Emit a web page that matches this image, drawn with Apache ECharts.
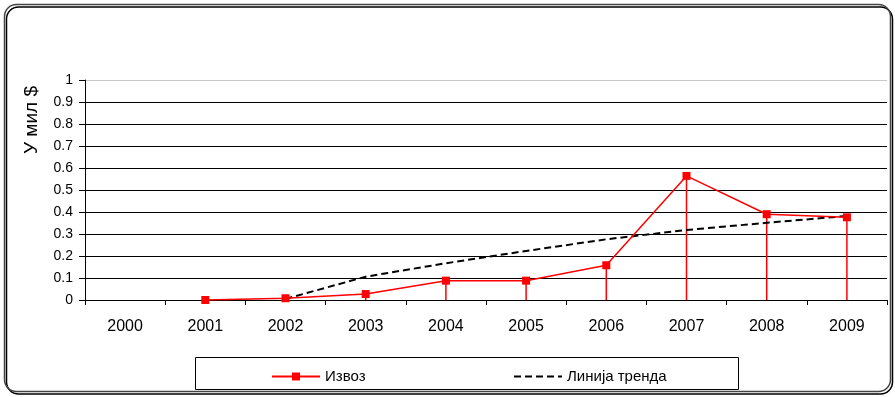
<!DOCTYPE html>
<html>
<head>
<meta charset="utf-8">
<script src="https://cdn.jsdelivr.net/npm/echarts@6/dist/echarts.min.js"></script>
<style>html,body{margin:0;padding:0;background:#fff}#c{width:895px;height:397px}</style>
</head>
<body>
<div id="c"></div>
<script>
const years = ['2000','2001','2002','2003','2004','2005','2006','2007','2008','2009'];
const exportVals = [null, 0, 0.008, 0.027, 0.088, 0.088, 0.158, 0.564, 0.39, 0.376];
const trendVals = [null, null, 0.005, 0.106, 0.167, 0.223, 0.276, 0.318, 0.351, 0.382];
const exportName = 'Извоз';
const trendName = 'Линија тренда';
const yTitle = 'У мил $';

const chart = echarts.init(document.getElementById('c'), null, {renderer: 'canvas'});
const font = 'Arial, "Liberation Sans", sans-serif';
const gridColors = ['#000','#000','#000','#000','#000','#000','#000','#000','#000','#000','#c8c8c8'];
chart.setOption({
  animation: false,
  backgroundColor: '#fff',
  grid: {left: 85, right: 8, top: 80, bottom: 97},
  xAxis: {
    type: 'category',
    data: years,
    boundaryGap: true,
    axisLine: {lineStyle: {color: '#000', width: 1}},
    axisTick: {show: true, alignWithLabel: false, length: 5, lineStyle: {color: '#000'}},
    axisLabel: {color: '#000', fontSize: 16, fontFamily: font, margin: 19},
    splitLine: {show: false}
  },
  yAxis: {
    type: 'value',
    min: 0, max: 1, interval: 0.1,
    axisLine: {show: true, lineStyle: {color: '#000', width: 1}},
    axisTick: {show: true, length: 6, lineStyle: {color: '#000'}},
    axisLabel: {color: '#000', fontSize: 14, fontFamily: font, margin: 12},
    splitLine: {show: true, lineStyle: {color: gridColors, width: 1}}
  },
  legend: [
    {data: [exportName], left: 271, top: 369, itemWidth: 48, itemHeight: 10, itemGap: 0, padding: 0,
     selectedMode: false, textStyle: {fontSize: 15, fontFamily: font, color: '#000'}},
    {data: [{name: trendName, itemStyle: {opacity: 0}}], left: 513, top: 369, itemWidth: 48, itemHeight: 10, itemGap: 0, padding: 0,
     selectedMode: false, textStyle: {fontSize: 15, fontFamily: font, color: '#000'}}
  ],
  graphic: [
    {type: 'rect', z: -10, shape: {x: 4.5, y: 4.5, width: 886, height: 387, r: 12},
     style: {fill: 'none', stroke: '#444', lineWidth: 1.5, shadowColor: '#000', shadowOffsetX: 2, shadowOffsetY: 2.5, shadowBlur: 0}},
    {type: 'rect', z: -5, shape: {x: 195.5, y: 357.5, width: 543, height: 32},
     style: {fill: '#fff', stroke: '#000', lineWidth: 1}},
    {type: 'text', x: 32, y: 120, rotation: Math.PI / 2,
     style: {text: yTitle, fontSize: 19, fontFamily: font, fill: '#000', align: 'center', verticalAlign: 'middle'}}
  ],
  series: [
    {name: 'drop', type: 'bar', data: exportVals, barWidth: 1.5, z: 1,
     itemStyle: {color: '#ff0000'}, silent: true},
    {name: trendName, type: 'line', data: trendVals, symbol: 'none', z: 2,
     lineStyle: {color: '#000', width: 2, type: [7, 4]}, itemStyle: {color: '#000'}},
    {name: exportName, type: 'line', data: exportVals, symbol: 'rect', symbolSize: 8, z: 3,
     lineStyle: {color: '#ff0000', width: 1.5}, itemStyle: {color: '#ff0000'}}
  ]
});
</script>
</body>
</html>
